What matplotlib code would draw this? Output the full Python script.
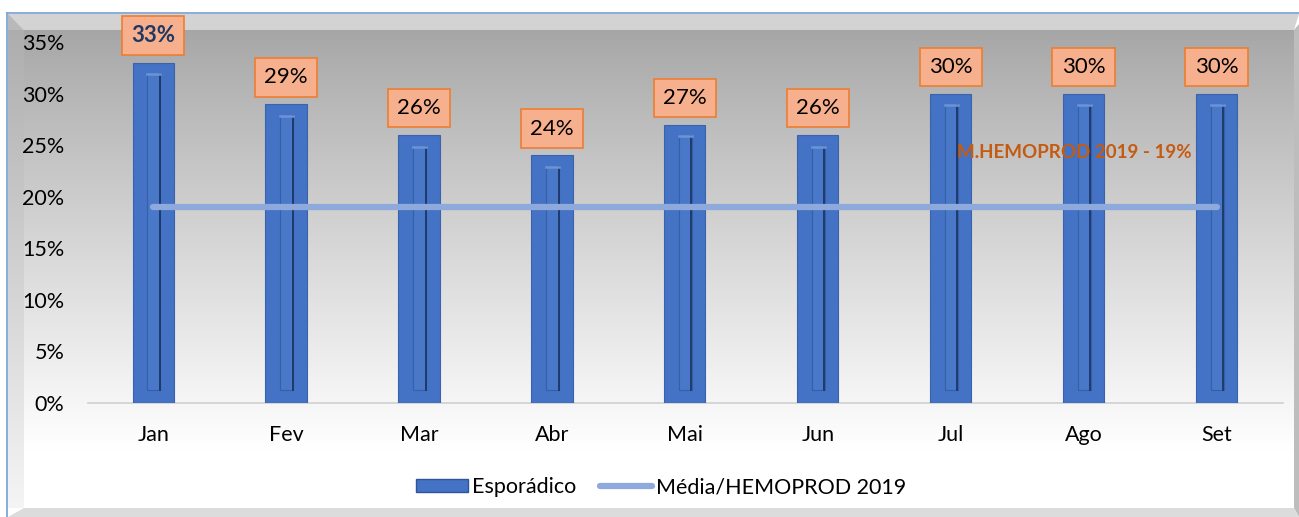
import numpy as np
import matplotlib
matplotlib.use("Agg")
import matplotlib.pyplot as plt
from matplotlib.patches import Rectangle, Polygon
from matplotlib.lines import Line2D

plt.rcParams['font.family'] = ['Lato', 'DejaVu Sans']

# ---- data ----
months = ["Jan", "Fev", "Mar", "Abr", "Mai", "Jun", "Jul", "Ago", "Set"]
esporadico = [0.33, 0.29, 0.26, 0.24, 0.27, 0.26, 0.30, 0.30, 0.30]
media_hemoprod = [0.19] * 9
yticks = [0.0, 0.05, 0.10, 0.15, 0.20, 0.25, 0.30, 0.35]
ytick_labels = ["0%", "5%", "10%", "15%", "20%", "25%", "30%", "35%"]
bar_label = "Esporádico"
line_label = "Média/HEMOPROD 2019"
note_text = "M.HEMOPROD 2019 - 19%"

W, H = 1299, 517
fig = plt.figure(figsize=(W / 100, H / 100), dpi=100)

# ---- background frame (pixel coordinates) ----
bg = fig.add_axes([0, 0, 1, 1])
bg.set_xlim(0, W)
bg.set_ylim(H, 0)
bg.axis("off")
bg.add_patch(Rectangle((0, 0), W, H, color="white", zorder=0))
grad = np.linspace(0, 1, 256)
vals = 0.65 + 0.35 * np.clip(grad / 0.88, 0, 1) ** 0.9
img = np.dstack([vals, vals, vals]).reshape(256, 1, 3)
bg.imshow(img, extent=(24, 1294, 508, 30), aspect="auto", zorder=1)
bg.add_patch(Polygon([(7, 14), (W, 14), (1294, 30), (24, 30)], closed=True,
                     facecolor="#d3d3d3", edgecolor="none", zorder=2))
lv = 0.68 + 0.28 * np.linspace(0, 1, 256)
limg = np.dstack([lv, lv, lv]).reshape(256, 1, 3)
bg.imshow(limg, extent=(8, 24, 508, 30), aspect="auto", zorder=2)
bg.add_patch(Polygon([(8, 14), (24, 30), (8, 30)], closed=True,
                     facecolor="#b9b9b9", edgecolor="none", zorder=2))
bg.add_patch(Polygon([(1294, 30), (W, 24), (W, H), (1294, 508)], closed=True,
                     facecolor="#bdbdbd", edgecolor="none", zorder=2))
bg.add_patch(Polygon([(8, H), (24, 508), (1294, 508), (W, H)], closed=True,
                     facecolor="#dcdcdc", edgecolor="none", zorder=2))
bg.plot([7, W], [13, 13], color="#7fa7d8", lw=1.3, zorder=3)
bg.plot([7, 7], [13, H], color="#7fa7d8", lw=1.3, zorder=3)

# ---- main axes ----
ax = fig.add_axes([88 / W, 114 / H, (1283 - 88) / W, (403 - 42) / H])
ax.set_facecolor("none")
x = np.arange(len(months))
bw = 0.31
ax.bar(x, esporadico, width=bw, color="#4472c4", edgecolor="#3a63ad",
       linewidth=0.8, zorder=3, label=bar_label)

# inner groove decoration
for xi, v in zip(x, esporadico):
    top = v - 0.0115
    bot = 0.0125
    ax.add_patch(Rectangle((xi - 0.045, bot), 0.1, top - bot,
                           facecolor="#4a78c8", edgecolor="#3560a8", lw=0.8, zorder=4))
    ax.plot([xi + 0.05, xi + 0.05], [bot, top], color="#1f3a6b", lw=1.4, zorder=5)
    ax.plot([xi - 0.045, xi + 0.055], [top, top], color="#6d93d6", lw=1.8, zorder=5)

ax.plot(x, media_hemoprod, color="#8ea9db", lw=4.5, solid_capstyle="round",
        zorder=6, label=line_label)

# value labels
for i, (xi, v) in enumerate(zip(x, esporadico)):
    txt = f"{round(v * 100)}%"
    bold = i == 0
    ax.annotate(txt, (xi, v), xytext=(0, 12), textcoords="offset points",
                ha="center", va="bottom", fontsize=16,
                fontweight="bold" if bold else "normal",
                color="#203864" if bold else "black", zorder=8,
                bbox=dict(boxstyle="square,pad=0.42", facecolor="#f7b08e",
                          edgecolor="#ed7d31", lw=1.2),
                annotation_clip=False)

ax.text(6.05, 0.243, note_text, color="#c55a11", fontsize=13.5, fontweight="bold",
        ha="left", va="center", zorder=9)

ax.set_xlim(-0.49, 8.5)
ax.set_ylim(0, 0.35)
ax.set_yticks(yticks)
ax.set_yticklabels(ytick_labels, fontsize=15.5)
ax.set_xticks(x)
ax.set_xticklabels(months, fontsize=15.5)
ax.tick_params(axis="y", length=0, pad=17)
ax.tick_params(axis="x", length=0, pad=16)
for s in ["top", "right", "left"]:
    ax.spines[s].set_visible(False)
ax.spines["bottom"].set_color("#d0d0d0")
ax.spines["bottom"].set_linewidth(1.2)

handles = [Rectangle((0, 0), 1, 1, facecolor="#4472c4", edgecolor="#2f5597"),
           Line2D([0], [0], color="#8ea9db", lw=4.5, solid_capstyle="round")]
fig.legend(handles, [bar_label, line_label], loc="center",
           bbox_to_anchor=(661 / W, 1 - 487 / H), ncol=2, frameon=False,
           fontsize=15.5, handlelength=2.4, handleheight=0.6, handletextpad=0.2,
           columnspacing=1.1)

fig.savefig("out.png", dpi=100)
